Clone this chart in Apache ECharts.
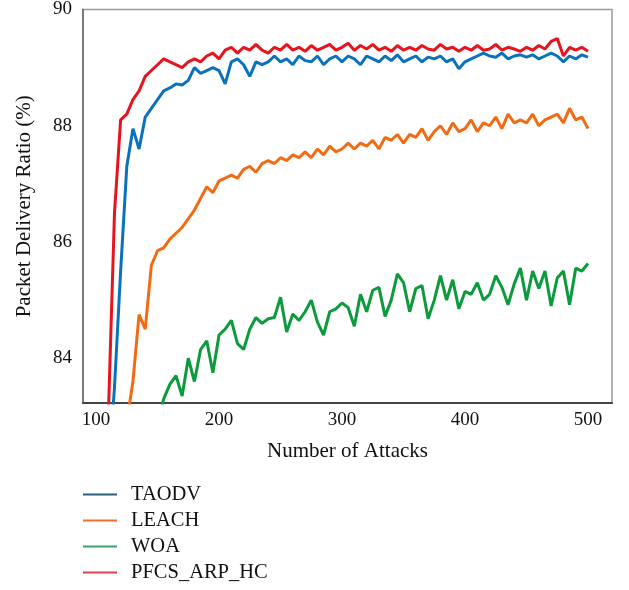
<!DOCTYPE html>
<html>
<head>
<meta charset="utf-8">
<script src="https://cdn.jsdelivr.net/npm/echarts@6/dist/echarts.min.js"></script>
<style>html,body{margin:0;padding:0;background:#fff;}#c{width:629px;height:590px;}</style>
</head>
<body>
<div id="c"></div>
<script>
const xs = [100,105,110,115,120,125,130,135,140,145,
  150,155,160,165,170,175,180,185,190,195,
  200,205,210,215,220,225,230,235,240,245,
  250,255,260,265,270,275,280,285,290,295,
  300,305,310,315,320,325,330,335,340,345,
  350,355,360,365,370,375,380,385,390,395,
  400,405,410,415,420,425,430,435,440,445,
  450,455,460,465,470,475,480,485,490,495,
  500];

const seriesNames = ['TAODV','LEACH','WOA','PFCS_ARP_HC'];

const taodv = [null, null, 82.0, 83.5, 85.5, 87.3, 87.95, 87.6, 88.15, 88.3,
  88.45, 88.6, 88.65, 88.72, 88.7, 88.78, 89.0, 88.9, 88.95, 89.0,
  88.95, 88.72, 89.1, 89.15, 89.05, 88.85, 89.1, 89.05, 89.1, 89.2,
  89.1, 89.15, 89.05, 89.2, 89.12, 89.1, 89.2, 89.05, 89.15, 89.2,
  89.1, 89.2, 89.15, 89.05, 89.2, 89.15, 89.1, 89.2, 89.12, 89.22,
  89.1, 89.15, 89.2, 89.1, 89.18, 89.15, 89.2, 89.1, 89.15, 88.98,
  89.1, 89.15, 89.2, 89.25, 89.2, 89.18, 89.25, 89.15, 89.2, 89.22,
  89.18, 89.22, 89.15, 89.2, 89.25, 89.2, 89.1, 89.2, 89.15, 89.22,
  89.18];

const leach = [null, null, null, null, null, 82.9, 83.6, 84.75, 84.5, 85.6,
  85.85, 85.9, 86.05, 86.15, 86.25, 86.4, 86.55, 86.75, 86.95, 86.85,
  87.05, 87.1, 87.15, 87.1, 87.25, 87.3, 87.2, 87.35, 87.4, 87.35,
  87.45, 87.4, 87.5, 87.45, 87.55, 87.45, 87.6, 87.5, 87.65, 87.55,
  87.6, 87.7, 87.6, 87.7, 87.65, 87.75, 87.6, 87.8, 87.75, 87.85,
  87.7, 87.85, 87.8, 87.95, 87.75, 87.9, 88.0, 87.85, 88.05, 87.9,
  87.95, 88.1, 87.9, 88.05, 88.0, 88.15, 87.95, 88.2, 88.05, 88.1,
  88.05, 88.2, 88.0, 88.1, 88.15, 88.2, 88.05, 88.3, 88.1, 88.15,
  87.95];

const woa = [null, null, null, null, null, null, null, null, null, 82.5,
  82.9, 83.3, 83.55, 83.7, 83.35, 84.0, 83.6, 84.15, 84.3, 83.75,
  84.4, 84.5, 84.65, 84.25, 84.15, 84.5, 84.7, 84.6, 84.68, 84.7,
  85.05, 84.45, 84.76, 84.65, 84.8, 85.0, 84.62, 84.4, 84.8, 84.85,
  84.95, 84.87, 84.55, 85.1, 84.8, 85.17, 85.22, 84.72, 85.0, 85.45,
  85.3, 84.8, 85.2, 85.25, 84.68, 85.0, 85.42, 85.0, 85.35, 84.85,
  85.15, 85.1, 85.3, 85.0, 85.1, 85.42, 85.22, 84.92, 85.28, 85.55,
  85.0, 85.5, 85.2, 85.5, 84.9, 85.38, 85.5, 84.92, 85.55, 85.5,
  85.63];

const pfcs = [null, 82.0, 83.0, 86.5, 88.1, 88.2, 88.45, 88.6, 88.85, 88.95,
  89.05, 89.15, 89.1, 89.05, 89.0, 89.1, 89.15, 89.1, 89.2, 89.25,
  89.15, 89.3, 89.35, 89.25, 89.35, 89.3, 89.4, 89.3, 89.25, 89.35,
  89.3, 89.4, 89.3, 89.35, 89.28, 89.38, 89.3, 89.35, 89.4, 89.3,
  89.35, 89.42, 89.3, 89.38, 89.32, 89.4, 89.3, 89.35, 89.28, 89.38,
  89.3, 89.35, 89.3, 89.38, 89.32, 89.3, 89.4, 89.32, 89.35, 89.28,
  89.35, 89.3, 89.38, 89.3, 89.32, 89.4, 89.3, 89.35, 89.32, 89.28,
  89.35, 89.3, 89.38, 89.32, 89.45, 89.5, 89.2, 89.35, 89.3, 89.35,
  89.28];

const xTickLabels = [100, 200, 300, 400, 500];
const yTickLabels = [84, 86, 88, 90];

const lineColors = ['#0a72bc', '#f26b12', '#0b9a3c', '#e5141f'];
const legendColors = ['#2b5f7d', '#f0702a', '#3aa070', '#e0404f'];

function pairs(vals) { return xs.map((x, i) => [x, vals[i]]); }
const allVals = [taodv, leach, woa, pfcs];
const font = 'Liberation Serif';

const chart = echarts.init(document.getElementById('c'), null, {renderer: 'canvas'});
chart.setOption({
  animation: false,
  backgroundColor: '#fff',
  grid: {left: 83, right: 17, top: 8, bottom: 187, show: true, borderColor: '#9a9a9a', borderWidth: 1.5, backgroundColor: 'transparent'},
  xAxis: {
    type: 'value', min: 89.4, max: 519.5,
    name: 'Number of Attacks', nameLocation: 'middle', nameGap: 38,
    nameTextStyle: {fontFamily: font, fontSize: 21, color: '#111'},
    axisLine: {show: true, onZero: false, lineStyle: {color: '#444', width: 2}},
    axisTick: {show: false},
    splitLine: {show: false},
    axisLabel: {
      showMinLabel: false, showMaxLabel: false, margin: 8,
      fontFamily: font, fontSize: 19, color: '#111',
      formatter: v => xTickLabels.some(t => Math.abs(t - v) < 1e-6) ? String(Math.round(v)) : ''
    }
  },
  yAxis: {
    type: 'value', min: 83.23, max: 90,
    name: 'Packet Delivery Ratio (%)', nameLocation: 'middle', nameGap: 48,
    nameTextStyle: {fontFamily: font, fontSize: 21, color: '#111'},
    axisLine: {show: true, onZero: false, lineStyle: {color: '#666', width: 1.5}},
    axisTick: {show: false},
    splitLine: {show: false},
    axisLabel: {
      showMinLabel: false, margin: 11,
      fontFamily: font, fontSize: 19, color: '#111',
      formatter: v => yTickLabels.some(t => Math.abs(t - v) < 1e-6) ? String(Math.round(v)) : ''
    }
  },
  legend: {
    orient: 'vertical', left: 83, top: 484, itemGap: 5, padding: 0,
    icon: 'rect', itemWidth: 34, itemHeight: 2,
    textStyle: {fontFamily: font, fontSize: 20.5, color: '#111', padding: [0, 0, 0, 9]},
    data: seriesNames.map((n, i) => ({name: n, itemStyle: {color: legendColors[i]}}))
  },
  series: seriesNames.map((n, i) => ({
    name: n, type: 'line', data: pairs(allVals[i]),
    showSymbol: false, symbol: 'none', clip: true,
    lineStyle: {color: lineColors[i], width: 3},
    itemStyle: {color: lineColors[i]},
    z: i === 3 ? 4 : (i === 0 ? 3 : 2)
  }))
});
</script>
</body>
</html>
